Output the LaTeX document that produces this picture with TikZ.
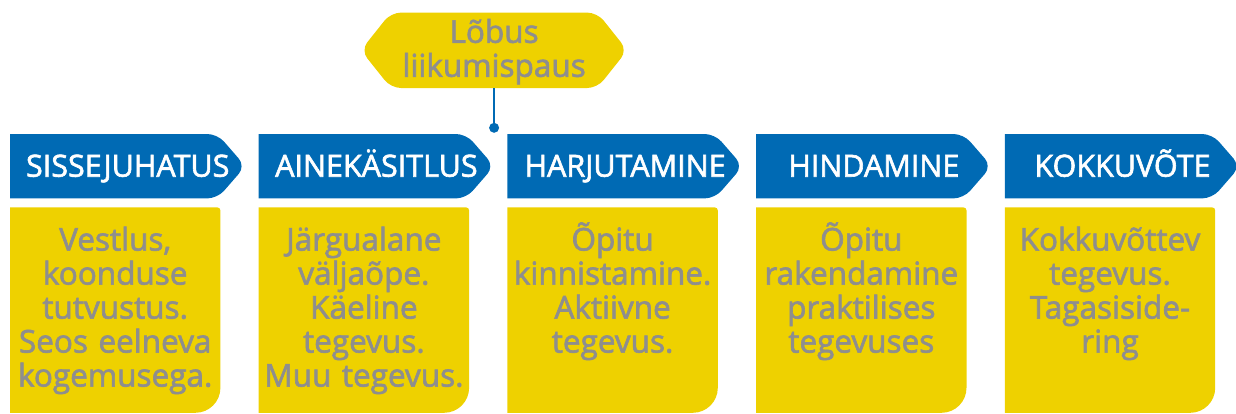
\documentclass[tikz,border=0pt]{standalone}
\usepackage{fontspec}
\setmainfont{Open Sans}[FakeBold=2]
\usetikzlibrary{positioning}
\definecolor{stepblue}{RGB}{0,106,180}
\definecolor{stepyellow}{RGB}{238,209,0}
\definecolor{notegray}{RGB}{142,142,142}
\pgfdeclarelayer{bg}
\pgfsetlayers{bg,main}

\begin{document}
\begin{tikzpicture}[
    x=1pt, y=-1pt,
    node distance=13.3pt,
    phase/.style={rectangle, minimum width=235pt, minimum height=64pt, inner sep=0pt, text height=21pt, text depth=0pt, text=white, font=\fontsize{30.5}{34}\selectfont},
    note/.style={rectangle, minimum width=210pt, text width=204pt, inner xsep=3pt, inner ysep=0pt, text height=43pt, text depth=162pt, align=center, text=notegray, font=\fontsize{31.5}{34}\selectfont},
    pause/.style={rectangle, minimum width=266pt, text width=254pt, inner xsep=6pt, inner ysep=0pt, text height=30pt, text depth=45pt, align=center, text=notegray, font=\fontsize{31.5}{34}\selectfont},
    pin/.style={circle, fill=stepblue, minimum size=10pt, inner sep=0pt},
    link/.style={stepblue, line width=2.5pt}
]
\useasboundingbox (0,0) rectangle (1236,413);

\node[phase, anchor=north west] (intro) at (10,134) {SISSEJUHATUS};
\node[phase, right=of intro] (theory) {AINEKÄSITLUS};
\node[phase, right=of theory] (practice) {HARJUTAMINE};
\node[phase, right=of practice] (assess) {HINDAMINE};
\node[phase, right=of assess] (summary) {KOKKUVÕTE};

\node[note, below=9pt of intro.south west, anchor=north west] (intro-note) {Vestlus,\\koonduse\\tutvustus.\\Seos eelneva\\kogemusega.};
\node[note, below=9pt of theory.south west, anchor=north west] (theory-note) {Järgualane\\väljaõpe.\\Käeline\\tegevus.\\Muu tegevus.};
\node[note, below=9pt of practice.south west, anchor=north west] (practice-note) {Õpitu\\kinnistamine.\\Aktiivne\\tegevus.};
\node[note, below=9pt of assess.south west, anchor=north west] (assess-note) {Õpitu\\rakendamine\\praktilises\\tegevuses};
\node[note, below=9pt of summary.south west, anchor=north west] (summary-note) {Kokkuvõttev\\tegevus.\\Tagasiside-\\ring};

\node[pause, above=46pt of theory.north east] (break) {Lõbus\\liikumispaus};
\node[pin, above=1pt of theory.north east] (pin) {};
\draw[link] (break) -- (pin);

% shapes behind the texts
\begin{pgfonlayer}{bg}
\fill[stepyellow, rounded corners=10pt] (break.west) -- ([xshift=30pt]break.north west) -- ([xshift=-30pt]break.north east) -- (break.east) -- ([xshift=-30pt]break.south east) -- ([xshift=30pt]break.south west) -- cycle;
\foreach \p in {intro,theory,practice,assess,summary} {
    \fill[stepblue] (\p.south west) -- (\p.north west) [rounded corners=10pt] -- ([xshift=-28pt]\p.north east) -- (\p.east) -- ([xshift=-28pt]\p.south east) [sharp corners] -- (\p.south west) -- cycle;
    \fill[stepyellow] (\p-note.south west) -- (\p-note.north west) [rounded corners=3pt] -- (\p-note.north east) [rounded corners=25pt] -- (\p-note.south east) [sharp corners] -- (\p-note.south west) -- cycle;
}
\end{pgfonlayer}
\end{tikzpicture}
\end{document}
